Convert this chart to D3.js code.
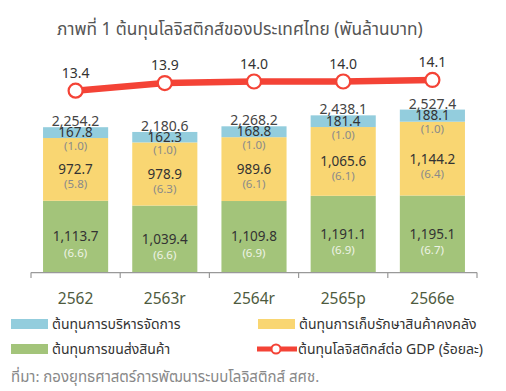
<!DOCTYPE html>
<html>
<head>
<meta charset="utf-8">
<script src="https://cdn.jsdelivr.net/npm/d3@7"></script>
<style>
  body { margin: 0; background: #fff; }
  text { font-family: "Noto Sans Thai", "Noto Sans", "DejaVu Sans", sans-serif; }
</style>
</head>
<body>
<div id="chart"></div>
<script>
// data
var years = ["2562", "2563r", "2564r", "2565p", "2566e"];
var transport = [1113.7, 1039.4, 1109.8, 1191.1, 1195.1];
var transportPct = [6.6, 6.6, 6.9, 6.9, 6.7];
var storage = [972.7, 978.9, 989.6, 1065.6, 1144.2];
var storagePct = [5.8, 6.3, 6.1, 6.1, 6.4];
var admin = [167.8, 162.3, 168.8, 181.4, 188.1];
var adminPct = [1.0, 1.0, 1.0, 1.0, 1.0];
var totals = [2254.2, 2180.6, 2268.2, 2438.1, 2527.4];
var gdpShare = [13.4, 13.9, 14.0, 14.0, 14.1];

var legendNames = ["ต้นทุนการบริหารจัดการ", "ต้นทุนการเก็บรักษาสินค้าคงคลัง",
                   "ต้นทุนการขนส่งสินค้า", "ต้นทุนโลจิสติกส์ต่อ GDP (ร้อยละ)"];

var colors = { transport: "#a3c47a", storage: "#f9d672", admin: "#93cddd", line: "#f44336" };

var svgWidth = 506, svgHeight = 391;
var baseY = 272.6;

var svg = d3.select("#chart").append("svg")
  .attr("width", svgWidth)
  .attr("height", svgHeight);

var fmt = d3.format(",.1f");

// scales
var x = d3.scaleBand().domain(years).range([31, 477]).paddingInner(0.27).paddingOuter(0.135);
var y = d3.scaleLinear().domain([0, 2600]).range([baseY, 104.9]);
var yLine = d3.scaleLinear().domain([13, 15]).range([96.8, 66.2]);
var cx = d => x(d) + x.bandwidth() / 2;

// title
svg.append("text")
  .attr("x", 57).attr("y", 35)
  .attr("font-size", 17.3)
  .attr("fill", "#555")
  .text("ภาพที่ 1 ต้นทุนโลจิสติกส์ของประเทศไทย (พันล้านบาท)");

// stacked bars
var rows = years.map(function(yr, i) {
  return { year: yr, transport: transport[i], storage: storage[i], admin: admin[i] };
});
var stack = d3.stack().keys(["transport", "storage", "admin"])(rows);

svg.append("g").selectAll("g")
  .data(stack)
  .enter().append("g")
  .attr("fill", d => colors[d.key])
  .selectAll("rect")
  .data(d => d)
  .enter().append("rect")
  .attr("x", d => x(d.data.year))
  .attr("width", x.bandwidth())
  .attr("y", d => y(d[1]))
  .attr("height", d => y(d[0]) - y(d[1]));

// x axis
var xAxis = svg.append("g")
  .attr("transform", `translate(0, ${baseY})`)
  .call(d3.axisBottom(x).tickSize(0).tickFormat(""));
xAxis.select(".domain").attr("stroke", "#999").attr("stroke-width", 1.2)
  .attr("d", `M31,0V0H477V0`);
var bounds = [31].concat(years.map(d => x(d) + x.bandwidth() + x.step() * 0.135));
xAxis.selectAll(".sep").data(bounds).enter().append("line")
  .attr("x1", d => d).attr("x2", d => d)
  .attr("y1", 0).attr("y2", 5.5)
  .attr("stroke", "#999").attr("stroke-width", 1.2);

svg.append("g").selectAll("text")
  .data(years).enter().append("text")
  .attr("x", d => cx(d)).attr("y", 304)
  .attr("text-anchor", "middle")
  .attr("font-size", 15.5)
  .attr("fill", "#4e5b3e")
  .text(d => d);

// labels inside bars
years.forEach(function(yr, i) {
  var g = svg.append("g").attr("text-anchor", "middle");
  var gTop = y(transport[i]);
  var gMid = (baseY + gTop) / 2;
  g.append("text").attr("x", cx(yr)).attr("y", gMid + 4.5)
    .attr("font-size", 13.5).attr("fill", "#333").text(fmt(transport[i]));
  g.append("text").attr("x", cx(yr)).attr("y", gMid + 20)
    .attr("font-size", 11.5).attr("fill", "#eef3e6").text("(" + transportPct[i].toFixed(1) + ")");

  var sTop = y(transport[i] + storage[i]);
  var sMid = (gTop + sTop) / 2;
  g.append("text").attr("x", cx(yr)).attr("y", sMid + 5)
    .attr("font-size", 13.5).attr("fill", "#333").text(fmt(storage[i]));
  g.append("text").attr("x", cx(yr)).attr("y", sMid + 19)
    .attr("font-size", 11.5).attr("fill", "#8a8a8a").text("(" + storagePct[i].toFixed(1) + ")");

  var aTop = y(totals[i]);
  var aMid = (sTop + aTop) / 2;
  g.append("text").attr("x", cx(yr)).attr("y", aMid + 4.5)
    .attr("font-size", 13.5).attr("fill", "#333").text(fmt(admin[i]));
  g.append("text").attr("x", cx(yr)).attr("y", sTop + 11.5)
    .attr("font-size", 11.5).attr("fill", "#8a8a8a").text("(" + adminPct[i].toFixed(1) + ")");

  g.append("text").attr("x", cx(yr)).attr("y", aTop - 1)
    .attr("font-size", 14).attr("fill", "#444").text(fmt(totals[i]));
});

// GDP share line
var line = d3.line().x((d, i) => cx(years[i])).y(d => yLine(d));
svg.append("path")
  .datum(gdpShare)
  .attr("d", line)
  .attr("fill", "none")
  .attr("stroke", colors.line)
  .attr("stroke-width", 6.5);

svg.append("g").selectAll("circle")
  .data(gdpShare).enter().append("circle")
  .attr("cx", (d, i) => cx(years[i]))
  .attr("cy", d => yLine(d))
  .attr("r", 7)
  .attr("fill", "#fff")
  .attr("stroke", colors.line)
  .attr("stroke-width", 2.2);

svg.append("g").selectAll("text")
  .data(gdpShare).enter().append("text")
  .attr("x", (d, i) => cx(years[i]))
  .attr("y", d => yLine(d) - 13)
  .attr("text-anchor", "middle")
  .attr("font-size", 14)
  .attr("fill", "#333")
  .text(d => d.toFixed(1));

// legend
var legend = svg.append("g").attr("font-size", 14).attr("fill", "#333");
var legendItems = [
  { name: legendNames[0], color: colors.admin, x: 11, y: 324, type: "rect" },
  { name: legendNames[1], color: colors.storage, x: 258, y: 324, type: "rect" },
  { name: legendNames[2], color: colors.transport, x: 11, y: 349, type: "rect" },
  { name: legendNames[3], color: colors.line, x: 257, y: 349, type: "line" }
];
legendItems.forEach(function(item) {
  if (item.type === "rect") {
    legend.append("rect").attr("x", item.x).attr("y", item.y - 5)
      .attr("width", 37).attr("height", 10).attr("fill", item.color);
  } else {
    legend.append("line").attr("x1", item.x).attr("x2", item.x + 40)
      .attr("y1", item.y).attr("y2", item.y)
      .attr("stroke", item.color).attr("stroke-width", 5);
    legend.append("circle").attr("cx", item.x + 19).attr("cy", item.y).attr("r", 4.5)
      .attr("fill", "#fff").attr("stroke", item.color).attr("stroke-width", 2);
  }
  legend.append("text").attr("x", item.x + 41).attr("y", item.y + 5)
    .text(item.name);
});

// source
svg.append("text")
  .attr("x", 11).attr("y", 382)
  .attr("font-size", 15)
  .attr("fill", "#888")
  .text("ที่มา: กองยุทธศาสตร์การพัฒนาระบบโลจิสติกส์ สศช.");
</script>
</body>
</html>
